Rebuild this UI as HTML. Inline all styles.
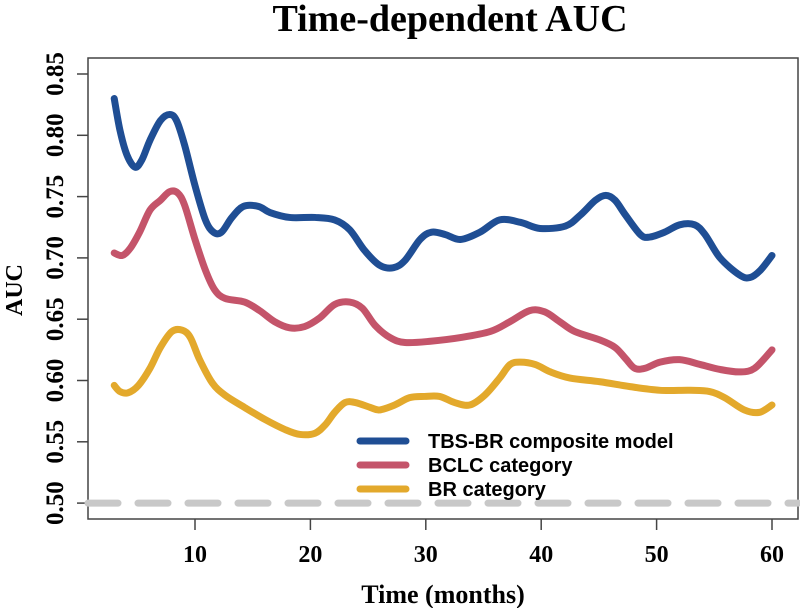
<!DOCTYPE html>
<html><head><meta charset="utf-8"><style>
body{margin:0;background:#fff}
svg{display:block}
</style></head><body>
<svg id="chart" width="800" height="608" viewBox="0 0 800 608" xmlns="http://www.w3.org/2000/svg">
<text x="450" y="31" text-anchor="middle" font-family="Liberation Serif, serif" font-weight="bold" font-size="38">Time-dependent AUC</text>
<rect x="88" y="58" width="710" height="461" fill="none" stroke="#444" stroke-width="1.5"/>
<g id="axes"></g>
<g id="series"></g>
<text x="443" y="603" text-anchor="middle" font-family="Liberation Serif, serif" font-weight="bold" font-size="26">Time (months)</text>
<text transform="translate(22,290) rotate(-90)" text-anchor="middle" font-family="Liberation Serif, serif" font-weight="bold" font-size="24">AUC</text>
<g font-family="Liberation Sans, sans-serif" font-weight="bold" font-size="20">
<line x1="360" y1="441" x2="406" y2="441" stroke="#1f4e94" stroke-width="7" stroke-linecap="round"/>
<text x="428" y="448">TBS-BR composite model</text>
<line x1="360" y1="465" x2="406" y2="465" stroke="#c4546a" stroke-width="7" stroke-linecap="round"/>
<text x="428" y="472">BCLC category</text>
<line x1="360" y1="489" x2="406" y2="489" stroke="#e3a92c" stroke-width="7" stroke-linecap="round"/>
<text x="428" y="496">BR category</text>
</g>
</svg>
<script>
const xTicks=[10,20,30,40,50,60];
const yTicks=[0.50,0.55,0.60,0.65,0.70,0.75,0.80,0.85];
const tbsT=[3,3.5,4.1,4.8,5.4,6.1,7,7.8,8.4,9.1,10,10.9,11.6,12.3,13.2,14.2,15.5,16.5,18.2,20.4,22.1,23.4,24.7,26,27.2,28.2,29.5,30.5,31.7,33,34.7,36.4,38.2,39.9,42.1,43.4,44.7,45.6,46.4,47.3,48.6,49.4,50.7,52,53.3,54.2,55.5,57.2,58.1,59,60];
const tbsV=[.830,.804,.784,.774,.780,.796,.812,.817,.812,.792,.759,.731,.721,.721,.733,.742,.742,.737,.733,.733,.731,.723,.706,.694,.692,.698,.715,.721,.719,.715,.721,.731,.729,.724,.726,.735,.747,.751,.747,.735,.719,.717,.721,.727,.727,.719,.700,.686,.684,.690,.702];
const bclcT=[3,3.7,4.4,5.2,6.1,7,7.8,8.5,9.1,10,10.9,11.7,12.6,14.3,15.6,16.9,18.2,19.5,20.8,22.1,23.4,24.5,25.6,26.9,28.2,30.4,33,35.6,37.3,39,40.3,41.6,42.9,45.1,46.4,47.3,48.1,49,50.3,52,53.8,55.5,57.2,58.5,60];
const bclcV=[.704,.702,.708,.721,.739,.747,.754,.753,.743,.715,.690,.674,.667,.664,.657,.648,.643,.644,.651,.662,.664,.659,.645,.635,.631,.632,.635,.640,.648,.657,.656,.648,.640,.633,.627,.618,.610,.610,.615,.617,.613,.609,.607,.610,.625];
const brT=[3,3.5,4.2,5.1,6.1,7,8,8.9,9.6,10.4,11.5,12.6,14.3,16.1,17.8,19.1,20.4,21.3,22.1,23,23.9,25.2,26,27.3,28.6,29.9,31.2,32.5,33.8,35.1,36.4,37.3,38.2,39.5,40.8,42.5,45.1,47.7,50.3,52.9,54.6,55.9,57.6,58.9,60];
const brV=[.596,.591,.590,.596,.610,.627,.640,.641,.635,.617,.598,.588,.578,.568,.560,.556,.557,.564,.574,.582,.582,.578,.576,.580,.586,.587,.587,.582,.580,.588,.602,.613,.615,.613,.607,.602,.599,.595,.592,.592,.591,.586,.576,.574,.580];
const refLine=0.5;
const NS='http://www.w3.org/2000/svg';
function xs(t){return 195+(t-10)*11.54;}
function ys(v){return 74+(0.85-v)/0.05*61.3;}
const axes=document.getElementById('axes');
function mk(tag,attrs,parent){const e=document.createElementNS(NS,tag);for(const k in attrs)e.setAttribute(k,attrs[k]);parent.appendChild(e);return e;}
xTicks.forEach(t=>{
  const l=mk('line',{x1:xs(t),x2:xs(t),y1:519,y2:530,stroke:'#444','stroke-width':1.5},axes);
  
  
  const tx=mk('text',{x:xs(t),y:562,'text-anchor':'middle','font-family':'Liberation Serif, serif','font-weight':'bold','font-size':24},axes);
  tx.textContent=t;
  
  
});
yTicks.forEach(v=>{
  const l=mk('line',{x1:77,x2:88,y1:ys(v),y2:ys(v),stroke:'#444','stroke-width':1.5},axes);
  
  
  const tx=mk('text',{transform:`translate(63,${ys(v)}) rotate(-90)`,'text-anchor':'middle','font-family':'Liberation Serif, serif','font-weight':'bold','font-size':25},axes);
  tx.textContent=v.toFixed(2);
  
  
});
const series=document.getElementById('series');
const ref=mk('line',{x1:88,x2:798,y1:ys(refLine),y2:ys(refLine),stroke:'#c8c8c8','stroke-width':7,'stroke-dasharray':'30 20','stroke-linecap':'round'},series);


function smooth(T,V){
  const p=T.map((t,i)=>[xs(t),ys(V[i])]);
  let d=`M${p[0][0]},${p[0][1]}`;
  for(let i=0;i<p.length-1;i++){
    const p0=p[Math.max(0,i-1)],p1=p[i],p2=p[i+1],p3=p[Math.min(p.length-1,i+2)];
    const c1=[p1[0]+(p2[0]-p0[0])/6,p1[1]+(p2[1]-p0[1])/6];
    const c2=[p2[0]-(p3[0]-p1[0])/6,p2[1]-(p3[1]-p1[1])/6];
    d+=` C${c1[0]},${c1[1]} ${c2[0]},${c2[1]} ${p2[0]},${p2[1]}`;
  }
  return d;
}
const b=mk('path',{d:smooth(brT,brV),fill:'none',stroke:'#e3a92c','stroke-width':7,'stroke-linecap':'round','stroke-linejoin':'round'},series);


const r=mk('path',{d:smooth(bclcT,bclcV),fill:'none',stroke:'#c4546a','stroke-width':7,'stroke-linecap':'round','stroke-linejoin':'round'},series);


const u=mk('path',{d:smooth(tbsT,tbsV),fill:'none',stroke:'#1f4e94','stroke-width':7,'stroke-linecap':'round','stroke-linejoin':'round'},series);


</script>
</body></html>
